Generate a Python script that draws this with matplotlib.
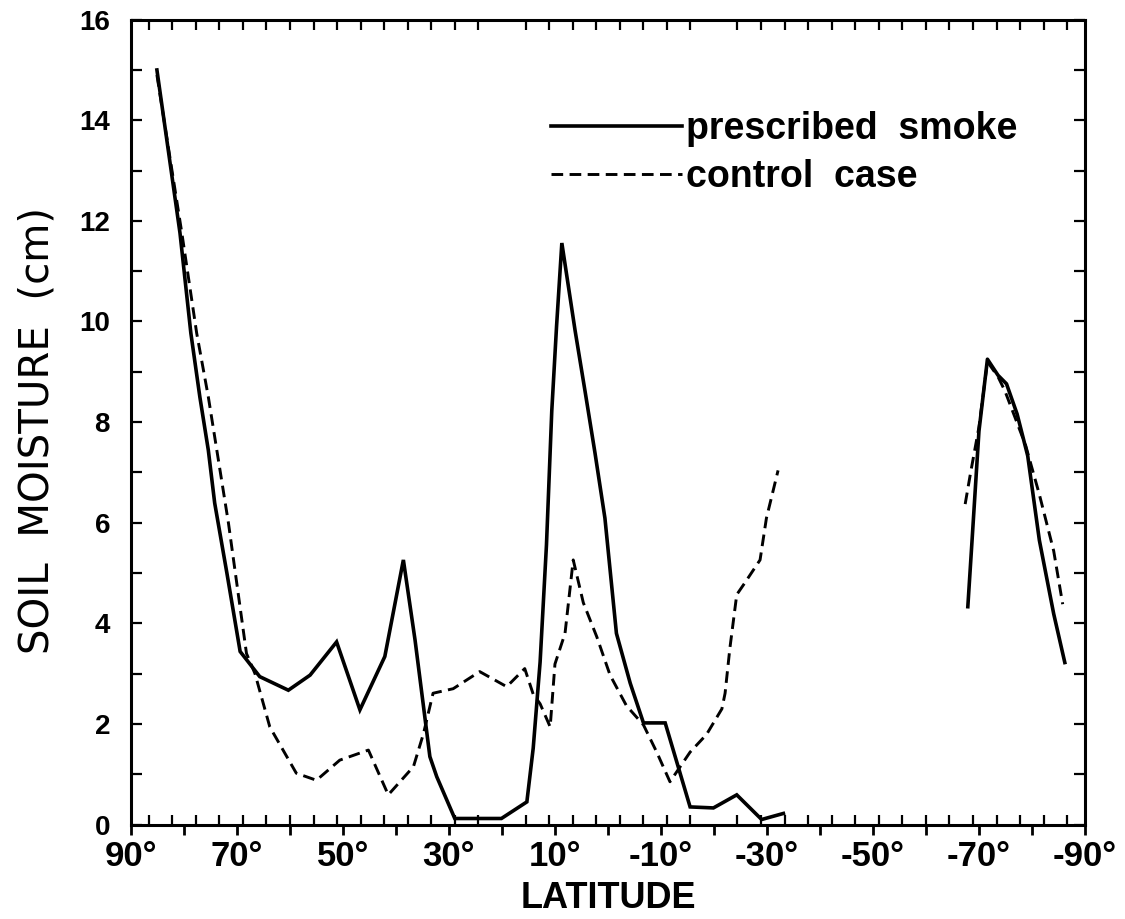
import numpy as np
import matplotlib
matplotlib.use("Agg")
import matplotlib.pyplot as plt
from matplotlib.ticker import FixedLocator, MultipleLocator

# Zonal mean soil moisture (cm) vs latitude
# ---------------------------------
# prescribed smoke, northern/tropical part
lat_smoke_n = [85.1, 80.75, 78.7, 77.0, 75.4, 74.2, 71.9, 69.4, 65.7, 60.3, 56.2, 51.2,
               46.8, 42.1, 38.6, 36.4, 33.6, 32.3, 28.9, 20.1, 15.3, 14.1, 12.8, 11.6,
               10.6, 9.7, 8.7, 6.2, 4.3, 2.45, 0.57, -1.6, -4.2, -6.7, -10.8, -15.5,
               -19.9, -24.3, -29.0, -33.1]
sm_smoke_n = [15.0, 11.76, 9.77, 8.5, 7.44, 6.39, 5.0, 3.44, 2.94, 2.67, 2.97, 3.63,
              2.28, 3.34, 5.26, 3.67, 1.35, 0.95, 0.12, 0.12, 0.45, 1.52, 3.23, 5.56,
              8.22, 9.9, 11.56, 9.82, 8.6, 7.39, 6.09, 3.8, 2.81, 2.02, 2.02, 0.35,
              0.33, 0.59, 0.10, 0.22]
# prescribed smoke, antarctic part
lat_smoke_s = [-67.9, -68.7, -70.0, -71.6, -73.6, -75.2, -77.2, -79.2, -81.4, -84.1, -86.2]
sm_smoke_s = [4.33, 5.65, 7.82, 9.25, 8.93, 8.76, 8.16, 7.33, 5.65, 4.19, 3.22]

# control case
lat_ctrl_n = [85.1, 80.4, 77.6, 75.4, 71.6, 68.2, 66.6, 63.8, 58.8, 55.0,
              50.6, 45.2, 41.45, 36.7, 34.8, 33.0, 29.2, 24.2, 19.1, 15.7, 14.1, 12.8,
              10.9, 10.0, 8.1, 6.55, 4.65, 2.1, -0.4, -3.5, -6.7, -9.2, -11.7, -15.5,
              -18.6, -21.5, -22.1, -23.0, -24.3, -25.8, -28.7, -29.9, -32.1]
sm_ctrl_n = [14.9, 11.76, 9.77, 8.5, 5.99, 3.40, 3.0, 1.94, 1.02, 0.88,
             1.28, 1.48, 0.59, 1.15, 1.81, 2.61, 2.70, 3.04, 2.74, 3.10, 2.59, 2.4,
             1.94, 3.19, 3.8, 5.26, 4.41, 3.73, 2.97, 2.36, 1.98, 1.44, 0.85, 1.44,
             1.79, 2.3, 2.61, 3.5, 4.57, 4.8, 5.26, 6.09, 7.04]
lat_ctrl_s = [-67.4, -68.4, -70.0, -71.6, -73.6, -74.9, -78.8, -81.4, -84.1, -85.8]
sm_ctrl_s = [6.37, 6.98, 7.9, 9.2, 8.9, 8.62, 7.54, 6.56, 5.44, 4.38]

xtick_vals = list(range(90, -91, -10))
ytick_vals = list(range(0, 17, 2))
# ---------------------------------

# model grid latitudes (40 gaussian latitudes) used for the small inner ticks
nodes, _ = np.polynomial.legendre.leggauss(40)
grid_lats = np.degrees(np.arcsin(nodes))

line_w = 2.6
fig = plt.figure(figsize=(11.25, 9.19), dpi=100)
ax = fig.add_axes([0.1164, 0.1028, 0.848, 0.8758])

ax.plot(lat_smoke_n, sm_smoke_n, color='black', lw=line_w, solid_joinstyle='miter',
        label='prescribed  smoke')
ax.plot(lat_smoke_s, sm_smoke_s, color='black', lw=line_w)
ax.plot(lat_ctrl_n, sm_ctrl_n, color='black', lw=2.1, dashes=(4, 2.2),
        label='control  case')
ax.plot(lat_ctrl_s, sm_ctrl_s, color='black', lw=2.1, dashes=(4, 2.2))

ax.set_xlim(90, -90)
ax.set_ylim(0, 16)

for s in ax.spines.values():
    s.set_linewidth(2.2)

# x ticks: outer ticks every 10 deg, labels every 20 deg, inner ticks on the model grid
ax.xaxis.set_major_locator(FixedLocator(xtick_vals))
ax.set_xticklabels([f'{v}°' if v % 20 == 10 else '' for v in xtick_vals])
ax.xaxis.set_minor_locator(FixedLocator(grid_lats))
ax.tick_params(axis='x', which='major', direction='out', length=7, width=2,
               top=False, pad=4)
ax.tick_params(axis='x', which='minor', direction='in', length=7, width=1.6,
               top=True, bottom=True)

ax.yaxis.set_major_locator(FixedLocator(ytick_vals))
ax.yaxis.set_minor_locator(MultipleLocator(1))
ax.tick_params(axis='y', which='both', direction='in', length=8, width=1.6,
               left=True, right=True, pad=15)

for lab in ax.get_xticklabels():
    lab.set_family(['Liberation Sans Narrow', 'Liberation Sans'])
    lab.set_fontweight('bold')
    lab.set_fontsize(25)
for lab in ax.get_yticklabels():
    lab.set_family('Liberation Sans')
    lab.set_fontweight('bold')
    lab.set_fontsize(20)

ax.set_xlabel('LATITUDE', fontsize=26, family='Liberation Sans', fontweight='bold',
              labelpad=6)
ax.set_ylabel('SOIL  MOISTURE  (cm)', fontsize=29, family='DejaVu Sans')
ax.yaxis.set_label_coords(-0.0765, 0.49)

leg = ax.legend(loc='upper left', bbox_to_anchor=(0.44, 0.886), frameon=False,
                handlelength=3.5, handletextpad=0.12, labelspacing=0.32,
                borderpad=0, borderaxespad=0,
                prop={'family': 'Liberation Sans', 'weight': 'bold', 'size': 27})

plt.savefig('out.png', dpi=100)
